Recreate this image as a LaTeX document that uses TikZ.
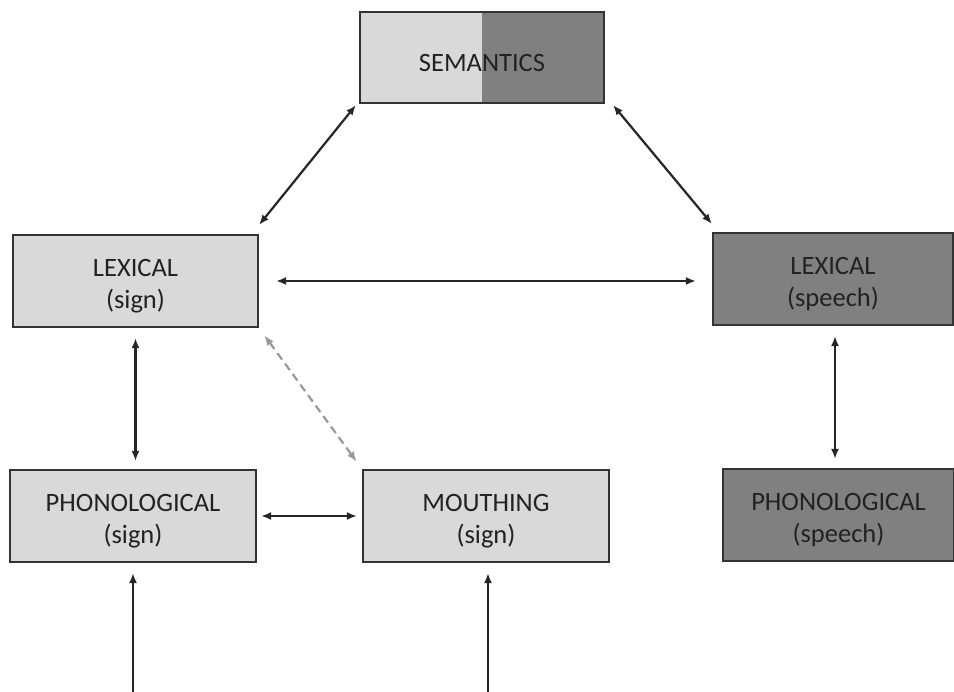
\documentclass[tikz,border=0pt]{standalone}
\usepackage{fontspec}
\setmainfont{Carlito}
\usetikzlibrary{arrows.meta,calc}
\definecolor{lightbox}{HTML}{D9D9D9}
\definecolor{darkbox}{HTML}{808080}
\definecolor{boxline}{HTML}{333333}
\definecolor{txt}{HTML}{222222}
\newcommand{\lowr}{\rule{0pt}{28pt}}
\begin{document}
\begin{tikzpicture}[x=1pt,y=-1pt,
  box/.style={draw=boxline,line width=2.2pt,minimum height=92pt,inner sep=0pt,align=center,
    text=txt,font=\fontsize{26.5}{32}\selectfont},
  lbox/.style={box,fill=lightbox},
  dbox/.style={box,fill=darkbox},
  arr/.style={line width=2.2pt,draw=black!85,{Latex[length=10pt,width=8pt]}-{Latex[length=10pt,width=8pt]}},
  uparr/.style={line width=2.2pt,draw=black!85,-{Latex[length=10pt,width=8pt]}},
  darr/.style={line width=2.2pt,draw=black!40,dash pattern=on 8pt off 5pt,{Latex[length=10pt,width=8pt]}-{Latex[length=10pt,width=8pt]}}]
\useasboundingbox (0,0) rectangle (954,692);
\fill[white] (0,0) rectangle (954,692);

\node[box,minimum width=244pt,minimum height=91pt,
  path picture={\fill[lightbox] (path picture bounding box.south west) rectangle (path picture bounding box.north);
                \fill[darkbox] (path picture bounding box.south) rectangle (path picture bounding box.north east);}]
  (sem) at (482,57.5) {\lowr SEMANTICS};
\node[lbox,minimum width=245pt] (lexs) at (135.5,281) {\lowr LEXICAL\\(sign)};
\node[dbox,minimum width=240pt] (lexsp) at (833,279) {\lowr LEXICAL\\(speech)};
\node[lbox,minimum width=246pt] (phons) at (133,516) {\lowr PHONOLOGICAL\\(sign)};
\node[lbox,minimum width=246pt] (mouth) at (486,516) {\lowr MOUTHING\\(sign)};
\node[dbox,minimum width=231pt] (phonsp) at (838.5,515) {\lowr PHONOLOGICAL\\(speech)};

\coordinate (b1) at (133,692);
\coordinate (b2) at (488,692);

\draw[arr] ($(sem.south west)+(-3,1)$) -- ($(lexs.north east)+(0,-9)$);
\draw[arr] ($(sem.south east)+(8,1)$) -- ($(lexsp.north west)+(0,-8)$);
\draw[arr,shorten <=17pt,shorten >=16pt] (lexs.east) -- (lexs.east -| lexsp.west);
\draw[arr,shorten <=10pt,shorten >=8pt] (lexs.south) -- (lexs.south |- phons.north);
\draw[darr,shorten <=9pt,shorten >=9pt] (lexs.south east) -- (mouth.north west);
\draw[arr,shorten <=4pt,shorten >=5pt] (phons.east) -- (mouth.west);
\draw[arr] ($(lexsp.south)+(2,10)$) -- ($(lexsp.south |- phonsp.north)+(2,-9)$);
\draw[uparr,shorten >=10pt] (b1) -- (b1 |- phons.south);
\draw[uparr,shorten >=10pt] (b2) -- (b2 |- mouth.south);
\end{tikzpicture}
\end{document}
